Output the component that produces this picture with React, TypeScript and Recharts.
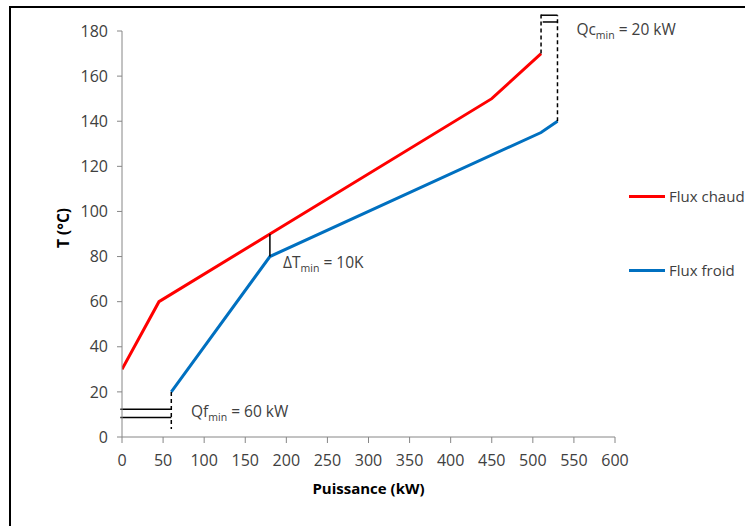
import { LineChart, Line, XAxis, YAxis, ReferenceLine, ReferenceDot, Label } from 'recharts';

// Flux chaud (hot stream)
const hotPower = [0, 45, 180, 450, 510];
const hotTemp = [30, 60, 90, 150, 170];
// Flux froid (cold stream)
const coldPower = [60, 180, 510, 530];
const coldTemp = [20, 80, 135, 140];

const seriesNames = ['Flux chaud', 'Flux froid'];
const seriesColors = ['#ff0000', '#0070c0'];

const powerTicks = [0, 50, 100, 150, 200, 250, 300, 350, 400, 450, 500, 550, 600];
const tempTicks = [0, 20, 40, 60, 80, 100, 120, 140, 160, 180];

const hotData = hotPower.map((x, i) => ({ x, y: hotTemp[i] }));
const coldData = coldPower.map((x, i) => ({ x, y: coldTemp[i] }));

const FONT = '"Open Sans", sans-serif';
const TEXT = '#404040';
const AXIS = '#868686';

function Annot({ viewBox, main, sub, rest }: any) {
  const x = viewBox?.x ?? 0;
  const y = viewBox?.y ?? 0;
  return (
    <text x={x} y={y} dy={5} fill={TEXT} fontSize={15.5} fontFamily={FONT}>
      {main}
      <tspan fontSize={10.5} dy={4}>{sub}</tspan>
      <tspan dy={-4}>{rest}</tspan>
    </text>
  );
}

const dash = { stroke: '#000', strokeWidth: 1.5, strokeDasharray: '4 3' };
const solid = { stroke: '#000', strokeWidth: 1.5 };

export default function App() {
  return (
    <div style={{ position: 'fixed', left: 0, top: 0, width: 745, height: 526, overflow: 'hidden', background: '#fff' }}>
      <div style={{ position: 'absolute', left: 9, top: 6, width: 800, height: 600, borderTop: '2px solid #000', borderLeft: '2px solid #000' }} />
      <div style={{ position: 'absolute', left: 0, top: 0 }}>
        <LineChart width={745} height={526} margin={{ top: 31, right: 130, bottom: 59, left: 62 }}>
          <XAxis
            type="number"
            dataKey="x"
            domain={[0, 600]}
            ticks={powerTicks}
            interval={0}
            allowDataOverflow
            stroke={AXIS}
            tickSize={6}
            tickMargin={12}
            height={30}
            tick={{ fill: TEXT, fontSize: 16, fontFamily: FONT }}
          >
            <Label
              value="Puissance (kW)"
              position="bottom"
              offset={16}
              style={{ fontWeight: 700, fontSize: 15, fontFamily: FONT, fill: '#000' }}
            />
          </XAxis>
          <YAxis
            type="number"
            dataKey="y"
            domain={[0, 180]}
            ticks={tempTicks}
            interval={0}
            allowDataOverflow
            stroke={AXIS}
            tickSize={5}
            tickMargin={9}
            width={60}
            tick={{ fill: TEXT, fontSize: 16, fontFamily: FONT }}
          >
            <Label
              content={({ viewBox }: any) => (
                <text
                  x={0}
                  y={0}
                  transform={`translate(${viewBox.x + 1}, ${viewBox.y + viewBox.height / 2 - 6}) rotate(-90)`}
                  textAnchor="middle"
                  dominantBaseline="central"
                  fontWeight={700}
                  fontSize={15.5}
                  fontFamily={FONT}
                  fill="#000"
                >
                  T (°C)
                </text>
              )}
            />
          </YAxis>
          <Line name={seriesNames[0]} data={hotData} dataKey="y" stroke={seriesColors[0]} strokeWidth={3} dot={false} isAnimationActive={false} />
          <Line name={seriesNames[1]} data={coldData} dataKey="y" stroke={seriesColors[1]} strokeWidth={3} dot={false} isAnimationActive={false} />

          {/* ΔTmin */}
          <ReferenceLine segment={[{ x: 180, y: 80 }, { x: 180, y: 90 }]} ifOverflow="visible" {...solid} />
          {/* Qc min */}
          <ReferenceLine segment={[{ x: 510, y: 170 }, { x: 510, y: 187.5 }]} ifOverflow="visible" {...dash} />
          <ReferenceLine segment={[{ x: 530, y: 140 }, { x: 530, y: 187 }]} ifOverflow="visible" {...dash} />
          <ReferenceLine segment={[{ x: 510, y: 187 }, { x: 530, y: 187 }]} ifOverflow="visible" {...solid} />
          <ReferenceLine segment={[{ x: 512, y: 184 }, { x: 530, y: 184 }]} ifOverflow="visible" {...solid} />
          {/* Qf min */}
          <ReferenceLine segment={[{ x: 60, y: 20 }, { x: 60, y: 3.5 }]} ifOverflow="visible" {...dash} />
          <ReferenceLine segment={[{ x: -2, y: 12.3 }, { x: 60, y: 12.3 }]} ifOverflow="visible" {...solid} />
          <ReferenceLine segment={[{ x: -2, y: 8.7 }, { x: 60, y: 8.7 }]} ifOverflow="visible" {...solid} />

          <ReferenceDot x={553} y={180.4} r={0} ifOverflow="visible" label={<Annot main="Qc" sub="min" rest=" = 20 kW" />} />
          <ReferenceDot x={196} y={77.3} r={0} ifOverflow="visible" label={<Annot main="ΔT" sub="min" rest=" = 10K" />} />
          <ReferenceDot x={84} y={11.2} r={0} ifOverflow="visible" label={<Annot main="Qf" sub="min" rest=" = 60 kW" />} />
        </LineChart>
      </div>
      <div style={{ position: 'absolute', left: 629, top: 185, fontFamily: FONT, fontSize: 15, color: TEXT }}>
        {seriesNames.map((name, i) => (
          <div key={name} style={{ display: 'flex', alignItems: 'center', height: 22, marginBottom: i === 0 ? 52 : 0 }}>
            <span style={{ display: 'inline-block', width: 36, height: 3, background: seriesColors[i], marginRight: 4 }} />
            <span>{name}</span>
          </div>
        ))}
      </div>
    </div>
  );
}
